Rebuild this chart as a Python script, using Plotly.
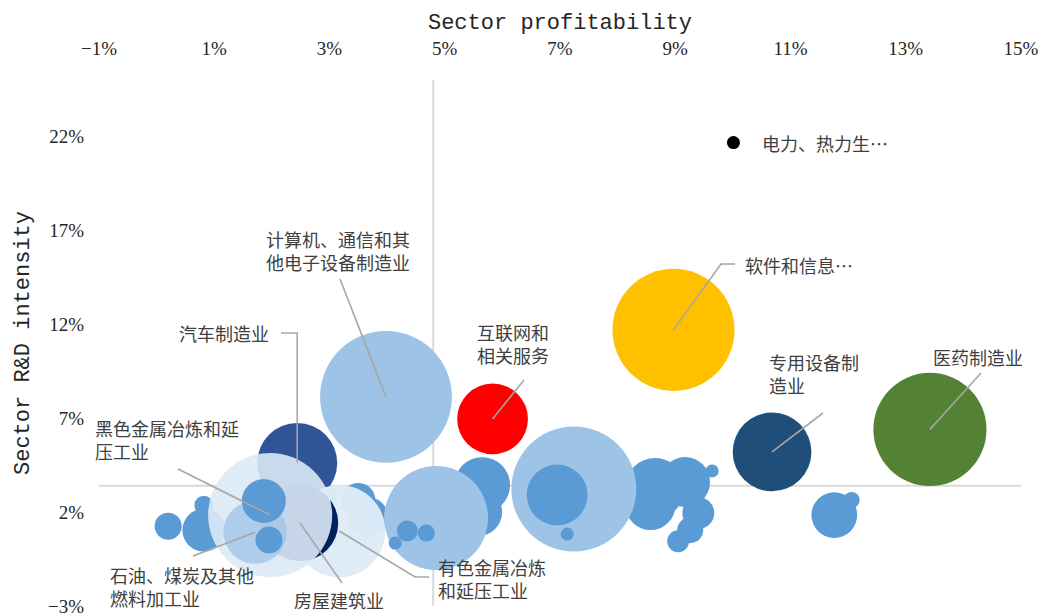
import plotly.graph_objects as go

# ---------------- data ----------------
# Sector profitability (%) on x, sector R&D intensity (%) on y,
# bubble value = relative industry scale (bubble area)
names = [
    "", "", "", "汽车制造业", "", "", "",
    "有色金属冶炼和延压工业", "房屋建筑业", "黑色金属冶炼和延压工业",
    "石油、煤炭及其他燃料加工业", "", "", "", "", "", "", "", "",
    "", "", "", "", "", "", "",
    "", "", "", "", "",
    "计算机、通信和其他电子设备制造业", "互联网和相关服务", "软件和信息技术服务业",
    "专用设备制造业", "医药制造业", "电力、热力生产和供应业",
]
profit = [
    0.20, 0.82, 0.82, 2.44, 2.96, 3.50, 3.67,
    3.17, 2.49, 1.97,
    1.71, 1.86, 1.95, 5.65, 5.58, 4.85, 4.35, 4.68, 4.14,
    8.57, 8.65, 9.17, 9.40, 9.26, 9.05, 9.64,
    7.24, 6.95, 7.125, 11.76, 12.06,
    3.98, 5.83, 8.97,
    10.68, 13.42, 10.01,
]
rd_intensity = [
    1.25, 2.37, 1.04, 4.61, 2.80, 2.64, 1.73,
    0.99, 1.41, 1.84,
    0.93, 2.59, 0.51, 3.44, 2.00, 1.68, 0.99, 0.88, 0.35,
    2.37, 3.28, 3.60, 1.95, 1.04, 0.45, 4.19,
    3.23, 2.91, 0.83, 1.84, 2.64,
    8.13, 6.96, 11.70,
    5.20, 6.40, 21.67,
]
scale = [
    7.3, 3.6, 18.5, 64, 4.0, 11.6, 16,
    85, 58, 154,
    40, 19.4, 7.3, 31, 23, 108, 4.4, 2.9, 1.7,
    25, 36, 25, 10.2, 6.8, 4.8, 1.7,
    156, 37, 1.7, 21, 2.6,
    174, 50, 149,
    62, 128, 1.7,
]
x_ticks = [-1, 1, 3, 5, 7, 9, 11, 13, 15]
y_ticks = [-3, 2, 7, 12, 17, 22]
x_cross = 4.8   # where the vertical axis line crosses
y_cross = 3.4   # where the horizontal axis line crosses

# label text shown for named bubbles
label_text = {
    "计算机、通信和其他电子设备制造业": "计算机、通信和其<br>他电子设备制造业",
    "互联网和相关服务": "互联网和<br>相关服务",
    "软件和信息技术服务业": "软件和信息…",
    "专用设备制造业": "专用设备制<br>造业",
    "医药制造业": "医药制造业",
    "电力、热力生产和供应业": "电力、热力生…",
    "汽车制造业": "汽车制造业",
    "黑色金属冶炼和延压工业": "黑色金属冶炼和延<br>压工业",
    "石油、煤炭及其他燃料加工业": "石油、煤炭及其他<br>燃料加工业",
    "房屋建筑业": "房屋建筑业",
    "有色金属冶炼和延压工业": "有色金属冶炼<br>和延压工业",
}

# ---------------- styling ----------------
BLUE = "#5B9BD5"
LIGHT = "#9DC3E6"
PALE = "rgba(220,233,246,0.9)"
PALE_SOLID = "rgba(222,235,247,0.97)"
MID = "rgba(157,195,230,0.75)"
special = {
    "汽车制造业": "#2F5597",
    "有色金属冶炼和延压工业": PALE_SOLID,
    "房屋建筑业": "#002060",
    "黑色金属冶炼和延压工业": PALE,
    "石油、煤炭及其他燃料加工业": MID,
    "计算机、通信和其他电子设备制造业": LIGHT,
    "互联网和相关服务": "#FF0000",
    "软件和信息技术服务业": "#FFC000",
    "专用设备制造业": "#1F4E79",
    "医药制造业": "#548235",
    "电力、热力生产和供应业": "#000000",
}
light_unnamed = {15, 26}
colors = []
for i, n in enumerate(names):
    if n:
        colors.append(special[n])
    elif i in light_unnamed:
        colors.append(LIGHT)
    else:
        colors.append(BLUE)


def pct(v):
    return ("\u2212" if v < 0 else "") + f"{abs(v)}%"


X0, X1 = -1, 15
Y0, Y1 = -3, 25
L, R, T, B = 99, 22, 80, 7
W, H = 1043, 613
PW, PH = W - L - R, H - T - B


def px2x(px):
    return X0 + (px - L) / PW * (X1 - X0)


def py2y(py):
    return Y1 - (py - T) / PH * (Y1 - Y0)


def px2paper(px):
    return (px - L) / PW


def py2paper(py):
    return 1 - (py - T) / PH


fig = go.Figure()
fig.add_trace(go.Scatter(
    x=profit, y=rd_intensity, mode="markers",
    text=names, hoverinfo="text+x+y",
    marker=dict(size=scale, sizemode="area", sizeref=0.02, opacity=1,
                color=colors, line=dict(width=0)),
    showlegend=False,
))

CJK = "Noto Sans CJK SC"
TXT = "#404040"
LEAD = "#A6A6A6"

# label placement (pixel anchors) and leader-line bends
label_layout = {
    "电力、热力生产和供应业": (760, 143, "left", []),
    "软件和信息技术服务业": (743, 265, "left", [(721, 264), (735, 264)]),
    "专用设备制造业": (767, 373, "left", [(823, 413)]),
    "医药制造业": (931, 357, "left", [(981, 373)]),
    "互联网和相关服务": (475, 343, "left", [(524, 380)]),
    "计算机、通信和其他电子设备制造业": (338, 250, "center", [(340, 279)]),
    "汽车制造业": (271, 333, "right", ["vert", (281, 333)]),
    "黑色金属冶炼和延压工业": (93, 439, "left", [(178, 469)]),
    "石油、煤炭及其他燃料加工业": (108, 586, "left", [(193, 556)]),
    "房屋建筑业": (292, 600, "left", [(342, 583)]),
    "有色金属冶炼和延压工业": (436, 578, "left", [(415, 577), (429, 577)]),
}

annotations = []
shapes = []
for n, (lx, ly, anchor, bends) in label_layout.items():
    i = names.index(n)
    annotations.append(dict(
        x=px2paper(lx), y=py2paper(ly), xref="paper", yref="paper",
        text=label_text[n],
        showarrow=False, xanchor=anchor, yanchor="middle", align="left",
        font=dict(family=CJK, size=18, color=TXT),
    ))
    if bends:
        pts = [(profit[i], rd_intensity[i])]
        for b in bends:
            if b == "vert":
                continue
            pts.append((px2x(b[0]), py2y(b[1])))
        if bends[0] == "vert":
            pts.insert(1, (profit[i], pts[1][1]))
        path = "M " + " L ".join(f"{px},{py}" for px, py in pts)
        shapes.append(dict(type="path", path=path, xref="x", yref="y",
                           line=dict(color=LEAD, width=1.6), layer="above"))

# crossing axis lines
shapes.append(dict(type="line", xref="x", yref="y", x0=x_cross, x1=x_cross,
                   y0=Y0, y1=Y1, line=dict(color="#D9D9D9", width=2), layer="below"))
shapes.append(dict(type="line", xref="x", yref="y", x0=X0, x1=X1,
                   y0=y_cross, y1=y_cross, line=dict(color="#D9D9D9", width=2), layer="below"))

fig.update_layout(
    width=W, height=H,
    margin=dict(l=L, r=R, t=T, b=B, autoexpand=False),
    paper_bgcolor="white", plot_bgcolor="white",
    annotations=annotations, shapes=shapes,
    xaxis=dict(
        range=[X0, X1], side="top", tickvals=x_ticks,
        ticktext=[pct(v) for v in x_ticks], automargin=False,
        showgrid=False, zeroline=False, showline=False, ticks="",
        ticklabeloverflow="allow",
        tickfont=dict(family="Liberation Serif", size=19, color="#262626"),
        ticklabelstandoff=20,
        title=dict(text="Sector profitability", standoff=2,
                   font=dict(family="Liberation Mono", size=22, color="#262626")),
    ),
    yaxis=dict(
        range=[Y0, Y1], tickvals=y_ticks,
        ticktext=[pct(v) for v in y_ticks], automargin=False,
        showgrid=False, zeroline=False, showline=False, ticks="",
        ticklabeloverflow="allow",
        tickfont=dict(family="Liberation Serif", size=19, color="#262626"),
        ticklabelstandoff=14,
        title=dict(text="Sector R&D intensity", standoff=12,
                   font=dict(family="Liberation Mono", size=22, color="#262626")),
    ),
)

fig.write_html(
    "out.html",
    config={"displayModeBar": False},
    post_script="document.body.style.margin='0';document.body.style.overflow='hidden';",
)
